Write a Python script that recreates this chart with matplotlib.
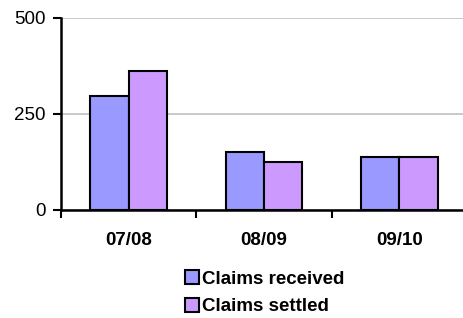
import matplotlib.pyplot as plt
import numpy as np
from matplotlib.patches import Patch

plt.rcParams['font.family'] = ['Liberation Sans', 'DejaVu Sans']

periods = ['07/08', '08/09', '09/10']
claims_received = [298, 152, 138]
claims_settled = [361, 124, 138]
series_names = ['Claims received', 'Claims settled']
colors = ['#9999FF', '#CC99FF']

fig = plt.figure(figsize=(4.64, 3.18), dpi=100)
ax = fig.add_axes([61 / 464, 1 - 210 / 318, 406 / 464, 192 / 318])

x = np.arange(len(periods))
width = 0.284
ax.bar(x - width / 2, claims_received, width, color=colors[0],
       edgecolor='black', linewidth=1.5, zorder=3)
ax.bar(x + width / 2, claims_settled, width, color=colors[1],
       edgecolor='black', linewidth=1.5, zorder=3)

ax.set_xlim(-0.5, 2.5)
ax.set_ylim(0, 500)
ax.set_yticks([0, 250, 500])
ax.yaxis.grid(True, color='#c0c0c0', linewidth=1.2, zorder=0)

# Category labels without ticks, boundary ticks as minor.
ax.set_xticks(x)
ax.set_xticklabels(periods, fontsize=13.5, fontweight='bold')
ax.set_xticks([-0.5, 0.5, 1.5, 2.5], minor=True)
ax.tick_params(axis='x', which='major', length=0, pad=16)
ax.tick_params(axis='x', which='minor', length=6, width=1.5, direction='out')
ax.tick_params(axis='y', length=6, width=1.5, pad=5, labelsize=13.5)

for side in ['top', 'right']:
    ax.spines[side].set_visible(False)
for side in ['left', 'bottom']:
    ax.spines[side].set_linewidth(1.8)

handles = [Patch(facecolor=c, edgecolor='black', linewidth=1.5) for c in colors]
fig.legend(handles, series_names, loc='upper left',
           bbox_to_anchor=(172 / 464, 1 - 257 / 318), frameon=False,
           prop={'weight': 'bold', 'size': 13.5},
           handlelength=0.75, handleheight=0.75, handletextpad=0.15,
           labelspacing=0.55, borderpad=0.2)

fig.savefig('out.png', dpi=100)
